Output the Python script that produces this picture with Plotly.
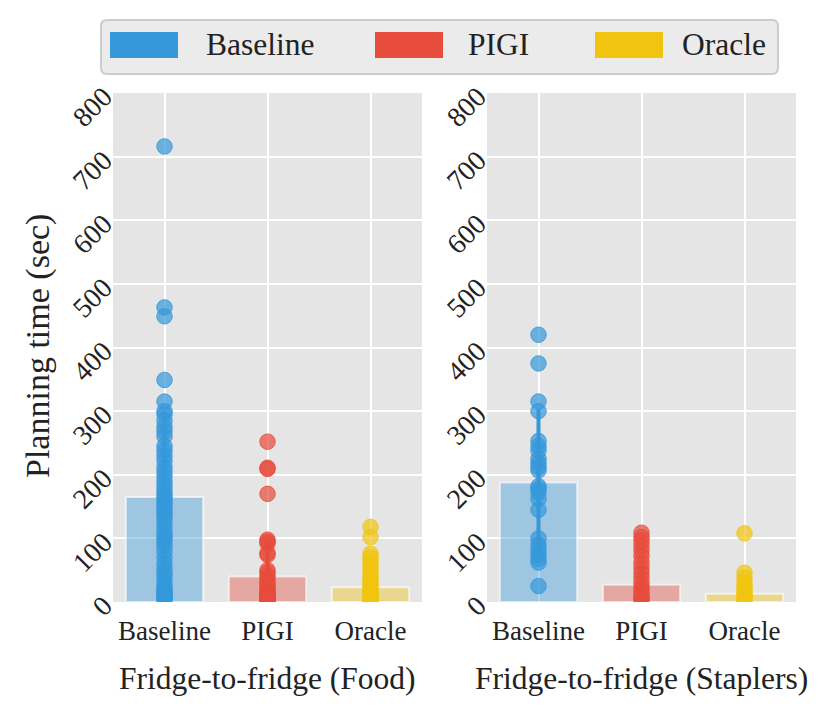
import plotly.graph_objects as go

W, H = 831, 715

methods = ["Baseline", "PIGI", "Oracle"]
colors = {"Baseline": "52,152,219", "PIGI": "231,76,60", "Oracle": "241,196,15"}
panel_titles = ["Fridge-to-fridge (Food)", "Fridge-to-fridge (Staplers)"]

# Bar heights (mean) and error half-widths
food_means = [165, 40, 23]
food_err = [135, 55, 28]
staplers_means = [188, 27, 13]
staplers_err = [115, 30, 20]

# Individual trial times (sec)
food_baseline = [716, 463, 449, 349, 315, 300, 295, 285, 275, 268, 260, 245, 238, 230,
                 222, 212, 205, 198, 190, 183, 176, 170, 165, 160, 155, 150, 146, 140,
                 135, 128, 120, 112, 105, 100, 95, 88, 80, 70, 60, 52, 45, 40, 32, 25,
                 22, 18, 15, 12, 10, 8, 6, 3]
food_pigi = [252, 211, 209, 170, 98, 95, 92, 77, 74, 50, 46, 40, 35, 30, 26, 22, 18, 15,
             14, 12, 12, 11, 10, 10, 9, 8, 8, 7, 6, 6, 5, 5, 4, 4, 3, 3, 2, 2, 1]
food_oracle = [118, 102, 76, 70, 64, 58, 52, 46, 40, 35, 30, 26, 22, 19, 16, 13, 10, 8,
               6, 4, 3, 2, 1]
staplers_baseline = [420, 375, 315, 300, 253, 245, 238, 225, 218, 212, 207, 182, 178,
                     172, 162, 145, 100, 90, 82, 75, 68, 62, 25]
staplers_pigi = [109, 102, 96, 88, 80, 72, 62, 54, 46, 38, 30, 24, 18, 12, 8, 5, 3]
staplers_oracle = [108, 46, 38, 30, 25, 20, 16, 12, 9, 6, 4, 2]

y_ticks = [0, 100, 200, 300, 400, 500, 600, 700, 800]

panels = [
    (food_means, food_err, [food_baseline, food_pigi, food_oracle]),
    (staplers_means, staplers_err, [staplers_baseline, staplers_pigi, staplers_oracle]),
]

FONT = "Liberation Serif"
fig = go.Figure()

for pi, (means, errs, pts) in enumerate(panels):
    xa = "x" if pi == 0 else "x2"
    ya = "y" if pi == 0 else "y2"
    for mi, m in enumerate(methods):
        c = colors[m]
        fig.add_trace(go.Bar(
            x=[m], y=[means[mi]], xaxis=xa, yaxis=ya, width=0.75,
            marker=dict(color=f"rgba({c},0.4)", line=dict(color="rgba(255,255,255,0.6)", width=2)),
            error_y=dict(type="data", array=[errs[mi]], visible=True,
                         color=f"rgb({c})", thickness=4, width=0),
            showlegend=False, hoverinfo="skip"))
    for mi, m in enumerate(methods):
        c = colors[m]
        fig.add_trace(go.Scatter(
            x=[m] * len(pts[mi]), y=pts[mi], xaxis=xa, yaxis=ya, mode="markers",
            marker=dict(size=15.5, color=f"rgba({c},0.7)",
                        line=dict(color=f"rgba({c},0.85)", width=1)),
            showlegend=False, hoverinfo="skip"))

dom_y = [1 - 602 / H, 1 - 93 / H]
xaxis_common = dict(showgrid=True, gridcolor="white", gridwidth=1.6, zeroline=False,
                    showline=False, ticks="", ticklabelstandoff=10, automargin=False,
                    tickfont=dict(family=FONT, size=27, color="#222"))
yaxis_common = dict(range=[0, 800], tickvals=y_ticks, tickangle=-45, automargin=False,
                    showgrid=True, gridcolor="white", gridwidth=1.6, zeroline=False, ticks="",
                    ticklabelstandoff=8,
                    tickfont=dict(family=FONT, size=28, color="#222"))
fig.update_layout(
    xaxis=dict(domain=[113 / W, 422 / W], anchor="y", range=[-0.5, 2.5],
               categoryorder="array", categoryarray=methods, **xaxis_common),
    xaxis2=dict(domain=[487 / W, 796 / W], anchor="y2", range=[-0.5, 2.5],
                categoryorder="array", categoryarray=methods, **xaxis_common),
    yaxis=dict(domain=dom_y, anchor="x", **yaxis_common),
    yaxis2=dict(domain=dom_y, anchor="x2", **yaxis_common),
    plot_bgcolor="#e5e5e5", paper_bgcolor="white",
    width=W, height=H, margin=dict(l=0, r=0, t=0, b=0, pad=0, autoexpand=False),
    barmode="overlay", showlegend=False,
)

annotations = []
centers = [(113 + 422) / 2 / W, (487 + 796) / 2 / W]
for pi, t in enumerate(panel_titles):
    annotations.append(dict(text=t, x=centers[pi], y=1 - 678 / H, xref="paper", yref="paper",
                            showarrow=False, xanchor="center", yanchor="middle",
                            font=dict(family=FONT, size=31.5, color="#222")))
annotations.append(dict(text="Planning time (sec)", x=38 / W, y=1 - 346 / H, xref="paper",
                        yref="paper", showarrow=False, textangle=-90, xanchor="center",
                        yanchor="middle", font=dict(family=FONT, size=34, color="#222")))

# custom legend
shapes = []
x0, x1, y0, y1, r = 101 / W, 778 / W, 1 - 74 / H, 1 - 20 / H, 6
rx, ry = r / W, r / H
path = (f"M {x0+rx},{y0} L {x1-rx},{y0} Q {x1},{y0} {x1},{y0+ry} L {x1},{y1-ry} "
        f"Q {x1},{y1} {x1-rx},{y1} L {x0+rx},{y1} Q {x0},{y1} {x0},{y1-ry} "
        f"L {x0},{y0+ry} Q {x0},{y0} {x0+rx},{y0} Z")
shapes.append(dict(type="path", path=path, xref="paper", yref="paper",
                   fillcolor="#ebebeb", line=dict(color="#cccccc", width=2)))
patch_x = [110, 375, 595]
text_x = [204, 466, 680]
for mi, m in enumerate(methods):
    shapes.append(dict(type="rect", xref="paper", yref="paper",
                       x0=patch_x[mi] / W, x1=(patch_x[mi] + 68) / W,
                       y0=1 - 58 / H, y1=1 - 32 / H,
                       fillcolor=f"rgb({colors[m]})", line=dict(width=0)))
    annotations.append(dict(text=m, x=text_x[mi] / W, y=1 - 45 / H, xref="paper",
                            yref="paper", showarrow=False, xanchor="left", yanchor="middle",
                            font=dict(family=FONT, size=31.5, color="#222")))

fig.update_layout(annotations=annotations, shapes=shapes)
fig.write_html("out.html", config={"displayModeBar": False},
               post_script="document.body.style.margin='0';document.body.style.overflow='hidden';")
